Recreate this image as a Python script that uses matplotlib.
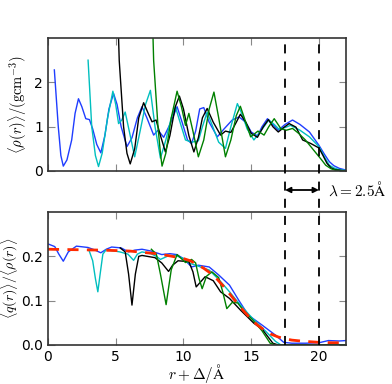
import numpy as np
import matplotlib
matplotlib.use('Agg')
import matplotlib.pyplot as plt
from matplotlib.transforms import blended_transform_factory
from matplotlib.lines import Line2D

plt.rcParams['mathtext.fontset'] = 'cm'
plt.rcParams['font.size'] = 10

# --- dados ---
# painel superior: densidade <rho(r)>
rho_blue_x = [0.47, 0.76, 0.95, 1.13, 1.4, 1.75, 2.0, 2.25, 2.5, 2.79, 3.06, 3.3, 3.6, 3.9, 4.2, 4.5,
              4.84, 5.1, 5.4, 5.83, 6.2, 6.6, 6.94, 7.3, 7.8, 8.12, 8.54, 9.0, 9.53, 9.9, 10.3, 10.6,
              10.9, 11.2, 11.5, 11.9, 12.5, 13.0, 13.6, 14.1, 14.6, 15.0, 15.46, 15.8, 16.2, 16.6,
              17.0, 17.5, 18.05, 18.6, 19.3, 20.0, 20.4, 20.77, 21.1, 21.5, 22.0]
rho_blue_y = [2.28, 1.0, 0.35, 0.11, 0.25, 0.7, 1.3, 1.63, 1.45, 1.18, 1.16, 0.95, 0.6, 0.41, 0.8, 1.4,
              1.75, 1.5, 1.0, 0.55, 0.75, 1.2, 1.45, 1.2, 0.81, 0.92, 0.76, 1.05, 1.45, 1.1, 0.7, 0.62,
              0.9, 1.4, 1.43, 1.1, 0.77, 0.95, 1.15, 1.22, 1.1, 0.88, 0.79, 1.0, 1.18, 1.05,
              0.92, 1.05, 1.15, 1.05, 0.88, 0.58, 0.38, 0.21, 0.12, 0.06, 0.02]

rho_cyan_x = [2.96, 3.23, 3.5, 3.73, 4.0, 4.4, 4.79, 5.0, 5.21, 5.45, 5.7, 6.0, 6.4, 6.8, 7.2, 7.56,
              7.9, 8.3, 8.7, 9.1, 9.4, 9.8, 10.15, 10.6, 11.1, 11.4, 11.75, 12.1, 12.6, 13.1, 13.5,
              13.98, 14.3, 14.7, 15.2, 15.7, 16.3, 16.7, 17.06, 17.5, 17.9, 18.6, 19.3, 20.0, 20.4,
              20.77, 21.1, 21.5, 22.0]
rho_cyan_y = [2.5, 1.0, 0.35, 0.1, 0.4, 1.2, 1.8, 1.5, 1.07, 1.15, 1.33, 0.9, 0.32, 0.9, 1.5, 1.82,
              1.0, 0.29, 0.7, 1.2, 1.45, 1.05, 0.7, 0.65, 0.68, 1.0, 1.33, 1.05, 0.65, 0.51, 1.0,
              1.52, 1.3, 0.95, 0.7, 0.9, 1.15, 1.05, 0.94, 0.98, 1.03, 0.92, 0.77, 0.55, 0.32,
              0.13, 0.07, 0.03, 0.01]

rho_black_x = [5.15, 5.26, 5.58, 5.83, 6.07, 6.4, 6.7, 7.06, 7.4, 7.68, 7.98, 8.3, 8.67, 9.0, 9.4,
               9.7, 10.0, 10.4, 10.77, 11.1, 11.4, 11.75, 12.2, 12.74, 13.1, 13.5, 13.9, 14.2, 14.6,
               15.0, 15.46, 15.9, 16.27, 16.6, 17.0, 17.4, 17.8, 18.3, 18.8, 19.4, 20.0, 20.3, 20.6,
               20.9, 21.2, 22.0]
rho_black_y = [3.6, 2.49, 1.0, 0.4, 0.16, 0.5, 1.2, 1.54, 1.3, 1.11, 1.15, 0.8, 0.43, 0.8, 1.45,
               1.69, 1.4, 0.8, 0.43, 0.75, 1.2, 1.41, 1.1, 0.81, 0.9, 0.87, 1.1, 1.28, 1.1,
               0.85, 0.76, 1.0, 1.16, 1.0, 0.88, 0.98, 1.07, 0.99, 0.7, 0.62, 0.52, 0.35, 0.17,
               0.07, 0.03, 0.0]

rho_green_x = [7.7, 7.8, 8.12, 8.3, 8.42, 8.7, 9.1, 9.53, 9.85, 10.15, 10.4, 10.7, 11.1, 11.5, 11.9,
               12.25, 12.6, 13.1, 13.5, 13.9, 14.2, 14.6, 14.96, 15.5, 15.95, 16.3, 16.7, 17.2, 17.6,
               18.05, 18.5, 19.0, 19.4, 19.8, 20.2, 20.5, 20.9, 21.2, 22.0]
rho_green_y = [3.6, 2.49, 1.0, 0.4, 0.11, 0.4, 1.2, 1.8, 1.45, 1.03, 1.3, 0.9, 0.32, 0.7, 1.4,
               1.78, 1.2, 0.32, 0.7, 1.25, 1.46, 1.1, 0.77, 0.9, 0.81, 1.0, 1.18, 0.95, 0.92,
               0.96, 0.85, 0.7, 0.55, 0.4, 0.25, 0.13, 0.05, 0.02, 0.0]

# painel inferior: <q(r)>/<rho(r)>
q_blue_x = [0.0, 0.5, 0.8, 1.13, 1.5, 2.1, 2.95, 3.4, 3.9, 4.3, 4.7, 5.4, 5.95, 6.4, 6.94, 7.6, 8.4,
            9.0, 9.5, 10.0, 10.6, 11.1, 11.9, 12.6, 13.4, 14.1, 14.8, 15.8, 16.8, 17.4, 18.0, 19.0,
            20.0, 20.7, 21.5, 22.0]
q_blue_y = [0.228, 0.222, 0.205, 0.189, 0.21, 0.223, 0.220, 0.215, 0.208, 0.216, 0.221, 0.219, 0.21,
            0.214, 0.216, 0.212, 0.204, 0.206, 0.204, 0.195, 0.176, 0.18, 0.176, 0.158, 0.135, 0.10,
            0.067, 0.045, 0.022, 0.006, 0.004, 0.004, 0.005, 0.01, 0.009, 0.01]

q_cyan_x = [3.0, 3.3, 3.5, 3.68, 3.85, 4.05, 4.3, 5.3, 5.9, 6.32, 6.6, 6.94, 7.6, 8.0, 8.3, 8.8, 9.4,
            10.0, 10.4, 10.9, 11.9, 12.6, 13.4, 14.2, 15.1, 16.1, 16.8, 17.2, 22.0]
q_cyan_y = [0.216, 0.19, 0.15, 0.12, 0.16, 0.205, 0.215, 0.21, 0.205, 0.191, 0.205, 0.21, 0.206, 0.2,
            0.193, 0.2, 0.202, 0.195, 0.185, 0.18, 0.169, 0.148, 0.12, 0.09, 0.06, 0.03, 0.008, 0.0, 0.0]

q_black_x = [5.33, 5.7, 5.95, 6.2, 6.45, 6.7, 6.94, 7.9, 8.4, 8.9, 9.2, 9.6, 10.4, 10.7, 10.94, 11.2,
             11.6, 12.2, 12.74, 13.4, 14.2, 15.2, 15.8, 16.2, 16.6, 17.0, 22.0]
q_black_y = [0.219, 0.21, 0.16, 0.09, 0.16, 0.2, 0.202, 0.197, 0.185, 0.166, 0.18, 0.19, 0.188, 0.165,
             0.131, 0.14, 0.154, 0.145, 0.12, 0.105, 0.079, 0.049, 0.036, 0.02, 0.004, 0.0, 0.0]

q_green_x = [7.63, 8.0, 8.3, 8.72, 9.1, 9.53, 10.15, 10.6, 10.9, 11.15, 11.38, 11.7, 12.1, 12.6, 12.9,
             13.2, 13.6, 14.0, 14.5, 15.1, 15.8, 16.4, 16.8, 22.0]
q_green_y = [0.216, 0.205, 0.16, 0.091, 0.17, 0.204, 0.186, 0.193, 0.185, 0.15, 0.127, 0.155, 0.165,
             0.152, 0.12, 0.082, 0.096, 0.095, 0.075, 0.057, 0.032, 0.004, 0.0, 0.0]

q_fit_x = [0.0, 2.0, 4.0, 6.0, 8.0, 9.0, 10.0, 10.5, 11.0, 11.5, 12.0, 12.5, 13.0, 13.5, 14.0, 14.5,
           15.0, 15.5, 16.0, 16.5, 17.0, 17.5, 18.0, 19.0, 20.0, 21.0, 22.0]
q_fit_y = [0.216, 0.215, 0.214, 0.212, 0.206, 0.201, 0.195, 0.19, 0.182, 0.173, 0.162, 0.148, 0.131,
           0.112, 0.093, 0.075, 0.058, 0.044, 0.033, 0.024, 0.018, 0.014, 0.011, 0.008, 0.006, 0.005,
           0.005]

r_inter = 17.5   # inicio da interface
lam = 2.5        # largura lambda

fig = plt.figure(figsize=(3.92, 3.84), dpi=100)
ax1 = fig.add_axes([0.1224, 0.5547, 0.7603, 0.3463])
ax2 = fig.add_axes([0.1224, 0.1016, 0.7603, 0.3463])

lw = 1.0
ax1.plot(rho_blue_x, rho_blue_y, color='#1f3dff', lw=lw)
ax1.plot(rho_cyan_x, rho_cyan_y, color='c', lw=lw)
ax1.plot(rho_black_x, rho_black_y, color='k', lw=lw)
ax1.plot(rho_green_x, rho_green_y, color='g', lw=lw)

ax2.plot(q_blue_x, q_blue_y, color='#1f3dff', lw=lw)
ax2.plot(q_cyan_x, q_cyan_y, color='c', lw=lw)
ax2.plot(q_black_x, q_black_y, color='k', lw=lw)
ax2.plot(q_green_x, q_green_y, color='g', lw=lw)
ax2.plot(q_fit_x, q_fit_y, color='#ff2a00', lw=2, ls=(0, (4, 3)))

for ax in (ax1, ax2):
    ax.set_xlim(0, 22)
    ax.tick_params(direction='in', top=True, right=True, length=5, color='#888888', labelsize=10)
    for s in ax.spines.values():
        s.set_color('#333333')
        s.set_linewidth(1.2)

ax1.set_ylim(0, 3)
ax1.set_yticks([0, 1, 2])
ax1.set_xticks([0, 5, 10, 15, 20])
ax1.set_xticklabels([])
ax1.set_ylabel(r'$\langle\rho(r)\rangle/(\mathrm{gcm}^{-3})$', fontsize=10.5, labelpad=4)

ax2.set_ylim(0, 0.3)
ax2.set_yticks([0.0, 0.1, 0.2])
ax2.set_yticklabels(['0.0', '0.1', '0.2'])
ax2.set_xticks([0, 5, 10, 15, 20])
ax2.set_ylabel(r'$\langle q(r)\rangle/\langle\rho(r)\rangle$', fontsize=10)
ax2.yaxis.set_label_coords(-0.093, 0.5)
ax2.set_xlabel(r'$r+\Delta/\mathrm{\AA}$', fontsize=11, labelpad=-1)

# linhas tracejadas verticais atravessando os dois paineis
tr = blended_transform_factory(ax1.transData, fig.transFigure)
y_top = 1 - 38 / 384
y_bot = 1 - 345 / 384
for xv in (r_inter, r_inter + lam):
    fig.add_artist(Line2D([xv, xv], [y_bot, y_top], transform=tr, color='k',
                          lw=1.3, ls=(0, (5, 4.5)), zorder=5))

y_arr = 1 - 190 / 384
ax1.annotate('', xy=(r_inter, y_arr), xytext=(r_inter + lam, y_arr),
             xycoords=tr, textcoords=tr,
             arrowprops=dict(arrowstyle='<|-|>', color='k', lw=1.3,
                             mutation_scale=8, shrinkA=0, shrinkB=0))
fig.text(328 / 392, y_arr, r'$\lambda=2.5\mathrm{\AA}$', fontsize=11, va='center', ha='left')

plt.savefig('out.png', dpi=100)
